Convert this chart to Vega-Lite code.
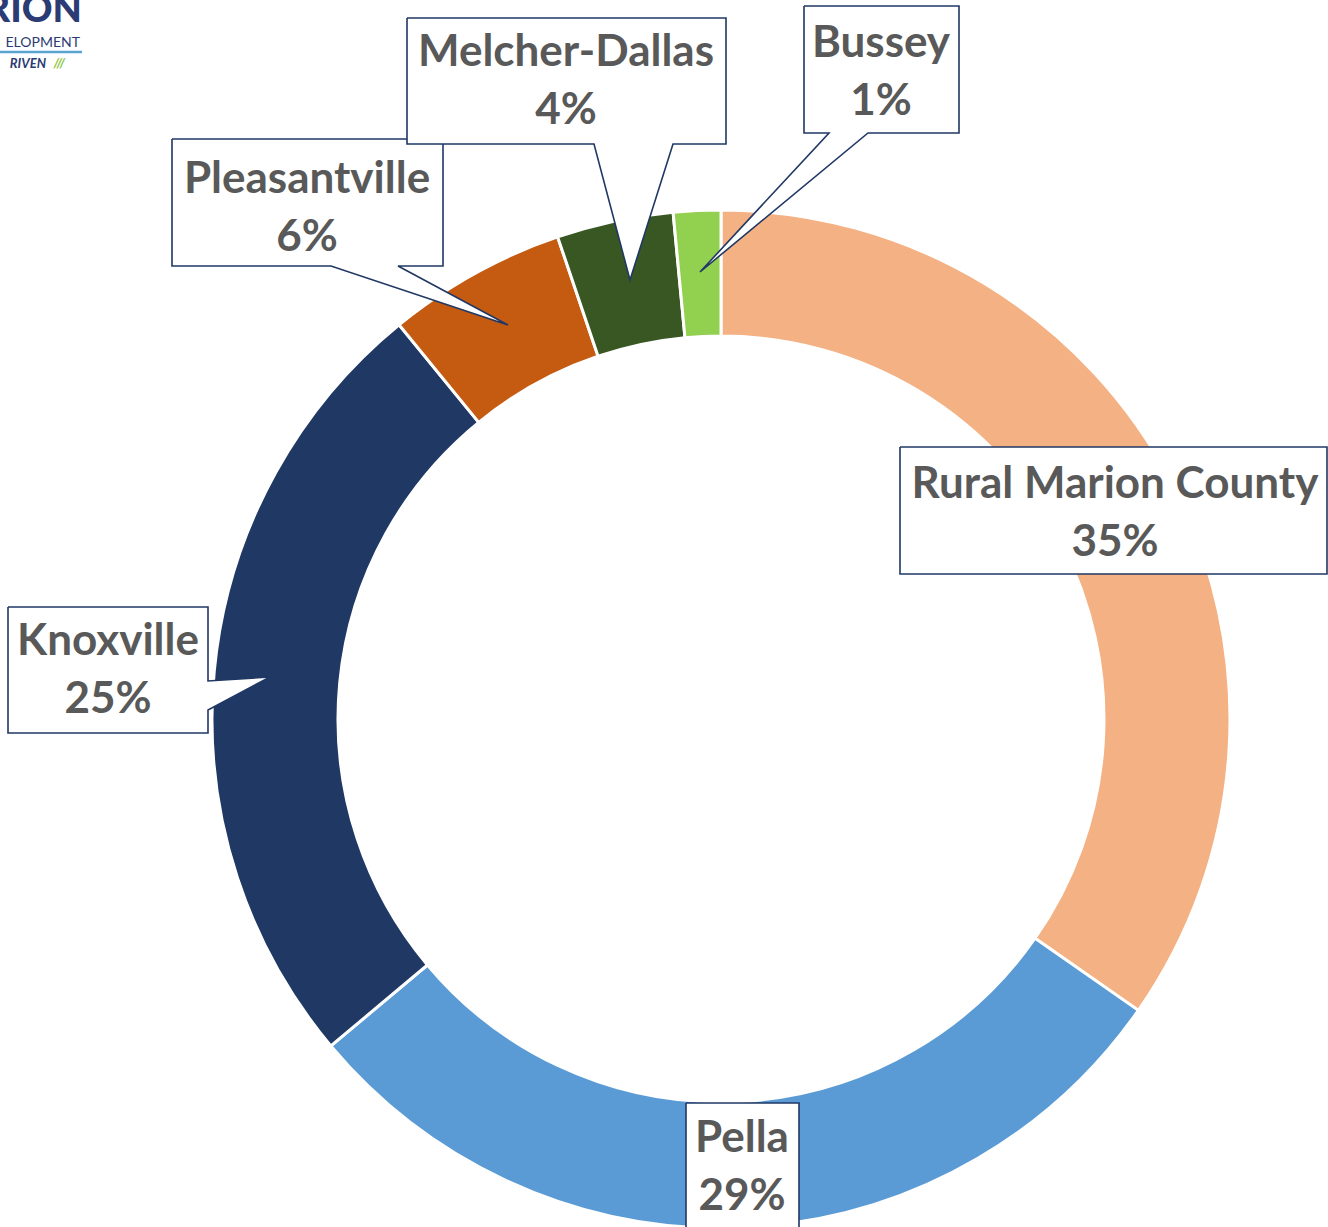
{
  "$schema": "https://vega.github.io/schema/vega-lite/v6.json",
  "width": 1328,
  "height": 1227,
  "autosize": {"type": "none"},
  "padding": 0,
  "background": "white",
  "config": {"view": {"stroke": null}},
  "datasets": {
    "slices": [
      {"k": 1, "name": "Rural Marion County", "share": 34.7},
      {"k": 2, "name": "Pella", "share": 29.2},
      {"k": 3, "name": "Knoxville", "share": 25.2},
      {"k": 4, "name": "Pleasantville", "share": 5.7},
      {"k": 5, "name": "Melcher-Dallas", "share": 3.7},
      {"k": 6, "name": "Bussey", "share": 1.5}
    ],
    "labels": [
      {"name": "Rural Marion County", "label": "Rural Marion County\n35%", "lx": 394, "ly": 205},
      {"name": "Pella", "label": "Pella\n29%", "lx": 21, "ly": -449},
      {"name": "Knoxville", "label": "Knoxville\n25%", "lx": -613, "ly": 48},
      {"name": "Pleasantville", "label": "Pleasantville\n6%", "lx": -414, "ly": 510},
      {"name": "Melcher-Dallas", "label": "Melcher-Dallas\n4%", "lx": -155, "ly": 637},
      {"name": "Bussey", "label": "Bussey\n1%", "lx": 160, "ly": 646}
    ],
    "callouts": [
      {"id": 1, "i": 1, "cx": 179, "cy": 272},
      {"id": 1, "i": 2, "cx": 606, "cy": 272},
      {"id": 1, "i": 3, "cx": 606, "cy": 145},
      {"id": 1, "i": 4, "cx": 179, "cy": 145},
      {"id": 1, "i": 5, "cx": 179, "cy": 272},
      {"id": 2, "i": 1, "cx": -35, "cy": -384},
      {"id": 2, "i": 2, "cx": 78, "cy": -384},
      {"id": 2, "i": 3, "cx": 78, "cy": -512},
      {"id": 2, "i": 4, "cx": -35, "cy": -512},
      {"id": 2, "i": 5, "cx": -35, "cy": -384},
      {"id": 3, "i": 1, "cx": -713, "cy": 112},
      {"id": 3, "i": 2, "cx": -513, "cy": 112},
      {"id": 3, "i": 3, "cx": -513, "cy": 38},
      {"id": 3, "i": 4, "cx": -451, "cy": 42},
      {"id": 3, "i": 5, "cx": -513, "cy": 9},
      {"id": 3, "i": 6, "cx": -513, "cy": -14},
      {"id": 3, "i": 7, "cx": -713, "cy": -14},
      {"id": 3, "i": 8, "cx": -713, "cy": 112},
      {"id": 4, "i": 1, "cx": -549, "cy": 580},
      {"id": 4, "i": 2, "cx": -278, "cy": 580},
      {"id": 4, "i": 3, "cx": -278, "cy": 453},
      {"id": 4, "i": 4, "cx": -323, "cy": 453},
      {"id": 4, "i": 5, "cx": -213, "cy": 394},
      {"id": 4, "i": 6, "cx": -390, "cy": 453},
      {"id": 4, "i": 7, "cx": -549, "cy": 453},
      {"id": 4, "i": 8, "cx": -549, "cy": 580},
      {"id": 5, "i": 1, "cx": -314, "cy": 701},
      {"id": 5, "i": 2, "cx": 5, "cy": 701},
      {"id": 5, "i": 3, "cx": 5, "cy": 575},
      {"id": 5, "i": 4, "cx": -48, "cy": 575},
      {"id": 5, "i": 5, "cx": -91, "cy": 439},
      {"id": 5, "i": 6, "cx": -127, "cy": 575},
      {"id": 5, "i": 7, "cx": -314, "cy": 575},
      {"id": 5, "i": 8, "cx": -314, "cy": 701},
      {"id": 6, "i": 1, "cx": 83, "cy": 713},
      {"id": 6, "i": 2, "cx": 238, "cy": 713},
      {"id": 6, "i": 3, "cx": 238, "cy": 586},
      {"id": 6, "i": 4, "cx": 147, "cy": 586},
      {"id": 6, "i": 5, "cx": -21, "cy": 447},
      {"id": 6, "i": 6, "cx": 108, "cy": 586},
      {"id": 6, "i": 7, "cx": 83, "cy": 586},
      {"id": 6, "i": 8, "cx": 83, "cy": 713}
    ],
    "logo": [
      {"t": "RION", "part": "big", "lx": -639, "ly": 697},
      {"t": "ELOPMENT", "part": "mid", "lx": -641, "ly": 672},
      {"t": "RIVEN", "part": "tag", "lx": -675, "ly": 651},
      {"t": "///", "part": "slash", "lx": -656, "ly": 651}
    ]
  },
  "layer": [
    {
      "data": {"name": "slices"},
      "mark": {"type": "arc", "outerRadius": 509, "innerRadius": 383, "stroke": "white", "strokeWidth": 3},
      "encoding": {
        "theta": {"field": "share", "type": "quantitative", "stack": true},
        "order": {"field": "k", "type": "quantitative"},
        "color": {
          "field": "name", "type": "nominal", "legend": null,
          "scale": {
            "domain": ["Rural Marion County", "Pella", "Knoxville", "Pleasantville", "Melcher-Dallas", "Bussey"],
            "range": ["#F4B183", "#5B9BD5", "#203864", "#C55A11", "#385723", "#92D050"]
          }
        },
        "x": {"datum": 0, "type": "quantitative", "scale": {"domain": [-721, 607], "nice": false, "zero": false}, "axis": null},
        "y": {"datum": 0, "type": "quantitative", "scale": {"domain": [-508, 719], "nice": false, "zero": false}, "axis": null}
      }
    },
    {
      "data": {"name": "callouts"},
      "mark": {"type": "line", "fill": "white", "stroke": "#203864", "strokeWidth": 1.6, "strokeJoin": "miter", "clip": false},
      "encoding": {
        "x": {"field": "cx", "type": "quantitative", "scale": {"domain": [-721, 607], "nice": false, "zero": false}, "axis": null},
        "y": {"field": "cy", "type": "quantitative", "scale": {"domain": [-508, 719], "nice": false, "zero": false}, "axis": null},
        "detail": {"field": "id", "type": "nominal"},
        "order": {"field": "i", "type": "quantitative"}
      }
    },
    {
      "data": {"name": "labels"},
      "mark": {"type": "text", "font": "Lato", "fontWeight": "bold", "fontSize": 44, "lineHeight": 58, "lineBreak": "\n", "color": "#595959", "align": "center", "baseline": "middle", "dy": -29},
      "encoding": {
        "x": {"field": "lx", "type": "quantitative", "scale": {"domain": [-721, 607], "nice": false, "zero": false}, "axis": null},
        "y": {"field": "ly", "type": "quantitative", "scale": {"domain": [-508, 719], "nice": false, "zero": false}, "axis": null},
        "text": {"field": "label"}
      }
    },
    {
      "data": {"name": "logo"},
      "transform": [{"filter": "datum.part == 'big'"}],
      "mark": {"type": "text", "font": "Lato", "fontWeight": 900, "fontSize": 38, "color": "#2B3B73", "align": "right", "baseline": "alphabetic"},
      "encoding": {
        "x": {"field": "lx", "type": "quantitative", "scale": {"domain": [-721, 607], "nice": false, "zero": false}, "axis": null},
        "y": {"field": "ly", "type": "quantitative", "scale": {"domain": [-508, 719], "nice": false, "zero": false}, "axis": null},
        "text": {"field": "t"}
      }
    },
    {
      "data": {"name": "logo"},
      "transform": [{"filter": "datum.part == 'mid'"}],
      "mark": {"type": "text", "font": "Lato", "fontSize": 14, "color": "#2B3B73", "align": "right", "baseline": "alphabetic"},
      "encoding": {
        "x": {"field": "lx", "type": "quantitative", "scale": {"domain": [-721, 607], "nice": false, "zero": false}, "axis": null},
        "y": {"field": "ly", "type": "quantitative", "scale": {"domain": [-508, 719], "nice": false, "zero": false}, "axis": null},
        "text": {"field": "t"}
      }
    },
    {
      "data": {"name": "logo"},
      "transform": [{"filter": "datum.part == 'tag' || datum.part == 'slash'"}],
      "mark": {"type": "text", "font": "Lato", "fontWeight": "bold", "fontStyle": "italic", "fontSize": 13, "align": "right", "baseline": "alphabetic"},
      "encoding": {
        "x": {"field": "lx", "type": "quantitative", "scale": {"domain": [-721, 607], "nice": false, "zero": false}, "axis": null},
        "y": {"field": "ly", "type": "quantitative", "scale": {"domain": [-508, 719], "nice": false, "zero": false}, "axis": null},
        "text": {"field": "t"},
        "color": {"condition": {"test": "datum.part == 'slash'", "value": "#8DC63F"}, "value": "#2B3B73"}
      }
    },
    {
      "data": {"values": [{"a": -721, "b": -639, "c": 667}]},
      "mark": {"type": "rule", "color": "#5BA3D0", "strokeWidth": 2.5},
      "encoding": {
        "x": {"field": "a", "type": "quantitative", "scale": {"domain": [-721, 607], "nice": false, "zero": false}, "axis": null},
        "x2": {"field": "b"},
        "y": {"field": "c", "type": "quantitative", "scale": {"domain": [-508, 719], "nice": false, "zero": false}, "axis": null}
      }
    }
  ]
}
